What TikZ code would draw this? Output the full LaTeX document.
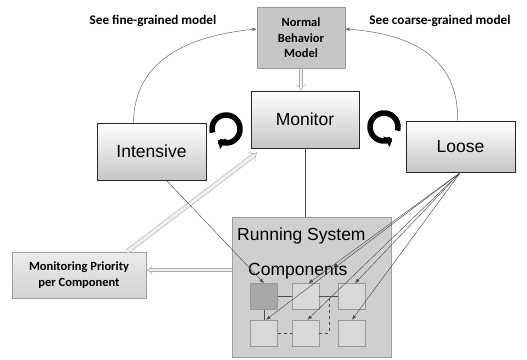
\documentclass[tikz,border=0pt]{standalone}
\usepackage{fontspec}
\setmainfont{Liberation Sans}
\newfontfamily\labelfont{Carlito}
\usetikzlibrary{arrows.meta,calc}

\newcommand\bigtxt{\fontsize{17.5}{21}\selectfont}
\newcommand\lbltxt{\labelfont\bfseries\fontsize{12.5}{15.5}\selectfont}
\newcommand\notetxt{\labelfont\bfseries\fontsize{13.2}{15.5}\selectfont}

\begin{document}
\begin{tikzpicture}[x=1pt,y=-1pt,
  box/.style={draw=black!85, line width=0.8pt, top color=white, bottom color=gray!45,
    inner sep=0pt, font=\bigtxt},
  graybox/.style={draw=gray!80, line width=0.6pt, fill=gray!45, inner sep=0pt,
    align=center, font=\lbltxt},
  comp/.style={draw=gray!80, line width=0.5pt, fill=gray!30, inner sep=0pt,
    minimum width=27pt, minimum height=26pt},
  hollow/.style={draw=gray!65, line width=0.6pt, double=gray!12, double distance=2.6pt,
    -{Implies}},
  thin/.style={draw=black!70, line width=0.45pt},
  tip/.style={thin, -{Latex[length=4.5pt,width=3.5pt]}},
  curve/.style={draw=black!60, line width=0.5pt, -{Stealth[length=5pt,width=3.5pt]}},
  cyc/.style={line width=5.5pt, -{Triangle[length=6.5pt,width=12pt]}},
  note/.style={font=\notetxt, inner sep=0pt}]
\useasboundingbox (0,0) rectangle (527,359);

% labels of the two model links
\node[note] (fine) at (153,21) {See fine-grained model};
\node[note] (coarse) at (440,21) {See coarse-grained model};

% main blocks
\node[graybox, minimum width=88pt, minimum height=61pt] (nbm) at (301,38)
  {Normal\\Behavior\\Model};
\node[box, minimum width=108pt, minimum height=57pt] (mon) at (305,119.5) {Monitor};
\node[box, minimum width=109pt, minimum height=57pt] (int) at (151.5,151.5) {Intensive};
\node[box, minimum width=109pt, minimum height=51pt] (loose) at (460.5,146.5) {Loose};
\node[draw=gray!75, line width=0.6pt, top color=gray!15, bottom color=gray!35,
  minimum width=134pt, minimum height=46pt, inner sep=0pt, align=center, font=\lbltxt]
  (mp) at (79,275) {Monitoring Priority\\per Component};

% running system with its components
\node[draw=gray!75, line width=0.8pt, fill=gray!38, minimum width=159pt,
  minimum height=140pt, inner sep=0pt] (run) at (311.5,287) {};
\node[anchor=base west, inner sep=0pt, font=\bigtxt] (runtitle) at (237,240) {Running System};
\node[anchor=base west, inner sep=0pt, font=\bigtxt] (comptitle) at (248,275) {Components};

\node[comp, fill=gray!68] (c1) at (264,296.5) {};
\node[comp] (c2) at (305.5,296.5) {};
\node[comp] (c3) at (352,296.5) {};
\node[comp] (c4) at (264,333) {};
\node[comp] (c5) at (305.5,333) {};
\node[comp] (c6) at (352,333) {};

\draw[thin] (c1) -- (c2);
\draw[thin] (c2) -- (c3);
\draw[thin] (c1) -- (c4);
\coordinate (j) at ($(c2.east)!0.5!(c3.west)$);
\draw[thin, dashed] (c4) -- (c5);
\draw[thin, dashed] (c5.east) -| (j);

% links between blocks
\draw[hollow] (nbm.south) -- (nbm.south |- mon.north);
\draw[thin] (mon.south) -- (mon.south |- run.north);
\coordinate (ra) at ([yshift=17pt]run.west);
\draw[hollow] (ra) -- (ra -| mp.east);
\draw[hollow, double distance=3.4pt] ([xshift=48pt]mp.north) -- ([shift={(7pt,-4pt)}]mon.south west);

\draw[curve] ([xshift=-18pt]int.north) .. controls (134,62) and (185,36) .. ($(nbm.west)+(0,-9)$);
\draw[curve] ([xshift=-3pt]loose.north) .. controls (459,60) and (415,34) .. ($(nbm.east)+(0,-9)$);

\draw[tip] ([xshift=15pt]int.south) -- (c1.north);
\draw[tip] (loose.south) -- ([xshift=3pt]c2.north);
\draw[tip] (loose.south) -- ([xshift=3pt]c3.north);
\draw[tip] (loose.south) -- ([xshift=2pt]c4.north);
\draw[tip] (loose.south) -- ([xshift=2pt]c5.north);
\draw[tip] (loose.south) -- (c6.north);

% cycle icons: clockwise on the left, counter-clockwise on the right
\coordinate (cycL) at (226,129);
\coordinate (cycR) at (384,127);
\draw[cyc, shift={(cycL)}] plot[smooth, domain=195:-125, samples=40]
  ({14*cos(\x)}, {-14*sin(\x)});
\draw[cyc, shift={(cycR)}] plot[smooth, domain=-15:305, samples=40]
  ({14*cos(\x)}, {-14*sin(\x)});
\end{tikzpicture}
\end{document}
